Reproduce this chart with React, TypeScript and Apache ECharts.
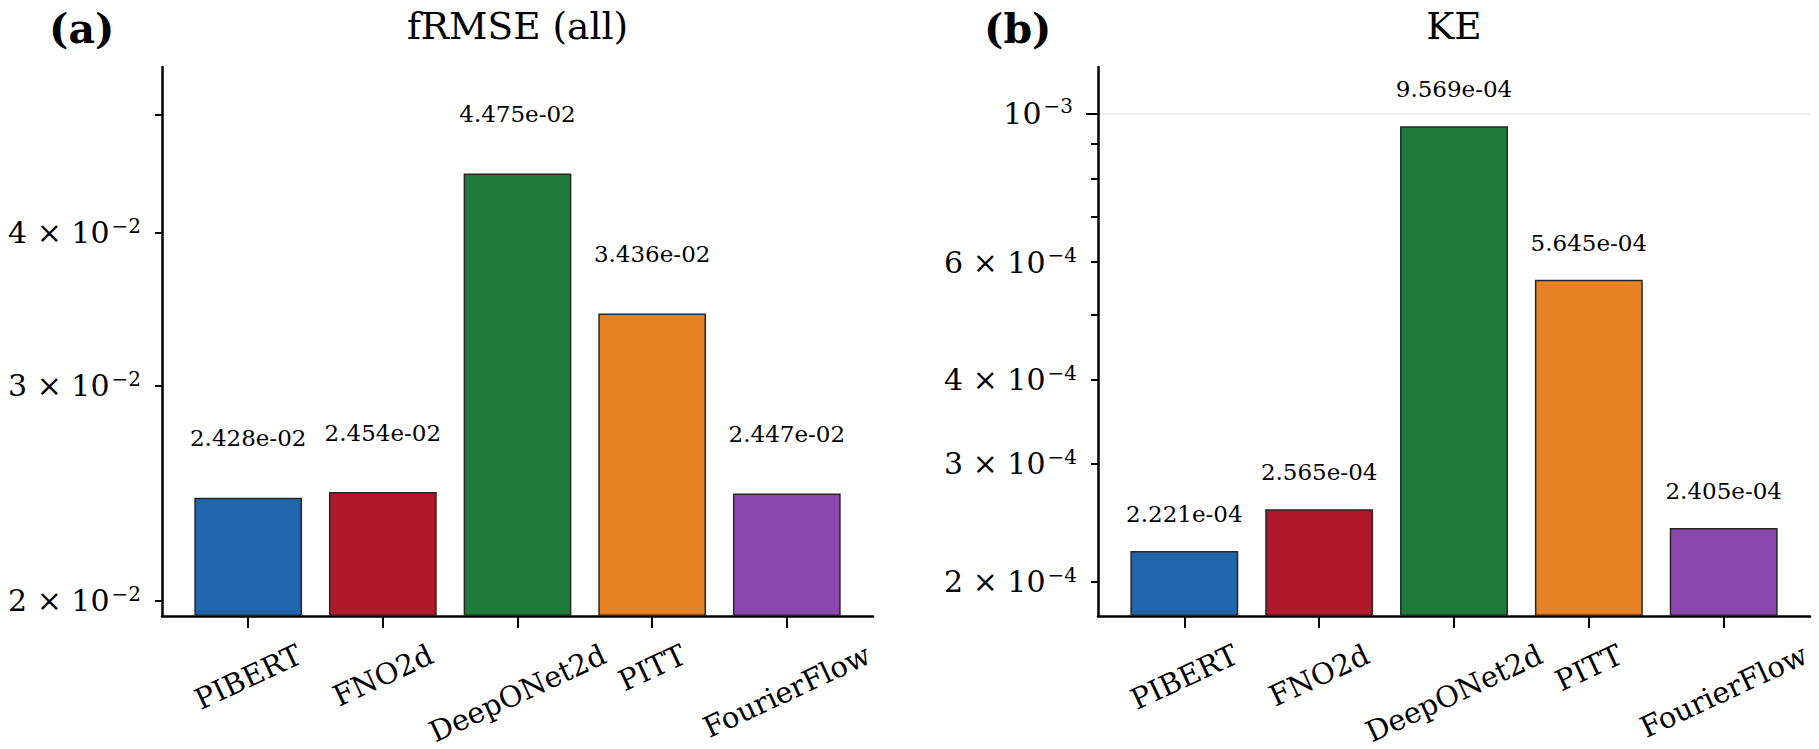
import React, { useEffect, useRef } from 'react';
import * as echarts from 'echarts';

// ---- data ----
const models = ['PIBERT', 'FNO2d', 'DeepONet2d', 'PITT', 'FourierFlow'];
const barColors = ['#2166ac', '#b2182b', '#1e7b3a', '#e68224', '#8c46ad'];
const frmseValues = [2.428e-2, 2.454e-2, 4.475e-2, 3.436e-2, 2.447e-2];
const keValues = [2.221e-4, 2.565e-4, 9.569e-4, 5.645e-4, 2.405e-4];

const frmseRange = [0.019424, 0.0547];
const keRange = [1.7768e-4, 1.173e-3];

const frmseTicks = [0.02, 0.03, 0.04, 0.05];
const frmseTickLabels = [0.02, 0.03, 0.04];
const keTicks = [2e-4, 3e-4, 4e-4, 5e-4, 6e-4, 7e-4, 8e-4, 9e-4];
const keTickLabels = [2e-4, 3e-4, 4e-4, 6e-4];
const keMajorTicks = [1e-3];

const categoryTicks = [0, 1, 2, 3, 4];
const panelTitles = ['fRMSE (all)', 'KE'];
const panelLetters = ['(a)', '(b)'];

const FONT = 'DejaVu Serif';

function fmtValue(v: number): string {
  const [m, e] = v.toExponential(3).split('e');
  const n = parseInt(e, 10);
  return m + 'e' + (n < 0 ? '-' : '+') + String(Math.abs(n)).padStart(2, '0');
}

function fmtTick(v: number): string {
  const e = Math.floor(Math.log10(v) + 1e-9);
  const m = Math.round(v / Math.pow(10, e));
  const sup = (e < 0 ? '\u2212' : '') + Math.abs(e);
  return m === 1 ? `{m|10}{s|${sup}}` : `{m|${m} \u00d7 10}{s|${sup}}`;
}

const tickRich = {
  m: { fontSize: 30, fontFamily: FONT, color: '#000', lineHeight: 34 },
  s: { fontSize: 20, fontFamily: FONT, color: '#000', lineHeight: 20, verticalAlign: 'top', padding: [0, 0, 0, 2] },
};

const grids = [
  { left: 162, top: 67, width: 711, height: 549 },
  { left: 1098, top: 67, width: 712, height: 549 },
];

export default function App() {
  const ref = useRef<HTMLDivElement>(null);
  useEffect(() => {
    if (!ref.current) return;
    const chart = echarts.init(ref.current, null, { renderer: 'svg' });

    const axisLine = { show: true, onZero: false, lineStyle: { color: '#000', width: 2.5 } };

    const xAxes = grids.map((_, k) => ({
      type: 'value',
      gridIndex: k,
      min: -0.64,
      max: 4.64,
      axisLine,
      axisTick: { show: true, customValues: categoryTicks, length: 12, lineStyle: { color: '#000', width: 2 } },
      axisLabel: { show: false },
      splitLine: { show: false },
    }));

    const yAxes: any[] = [
      {
        type: 'log', logBase: 10, gridIndex: 0, min: frmseRange[0], max: frmseRange[1], startValue: frmseRange[0],
        axisLine,
        axisTick: { show: true, customValues: frmseTicks, length: 7, lineStyle: { color: '#000', width: 2 } },
        axisLabel: { show: true, customValues: frmseTickLabels, margin: 21, formatter: fmtTick, rich: tickRich },
        splitLine: { show: false }, minorTick: { show: false },
      },
      {
        type: 'log', logBase: 10, gridIndex: 1, min: keRange[0], max: keRange[1], startValue: keRange[0],
        axisLine,
        axisTick: { show: true, customValues: keTicks, length: 7, lineStyle: { color: '#000', width: 2 } },
        axisLabel: { show: true, customValues: keTickLabels, margin: 21, formatter: fmtTick, rich: tickRich },
        splitLine: { show: false }, minorTick: { show: false },
      },
      {
        type: 'log', logBase: 10, gridIndex: 1, position: 'left', min: keRange[0], max: keRange[1],
        axisLine: { show: false, onZero: false },
        axisTick: { show: true, customValues: keMajorTicks, length: 12, lineStyle: { color: '#000', width: 2 } },
        axisLabel: { show: true, customValues: keMajorTicks, margin: 25, formatter: fmtTick, rich: tickRich },
        splitLine: { show: true, lineStyle: { color: '#e8e8e8', width: 1.5, type: 'solid' } },
        minorTick: { show: false },
      },
    ];

    const makeSeries = (values: number[], k: number, dist: number) => ({
      type: 'bar',
      xAxisIndex: k,
      yAxisIndex: k,
      barWidth: '80%',
      data: values.map((v, i) => ({ value: [i, v], itemStyle: { color: barColors[i] } })),
      itemStyle: { borderColor: '#262626', borderWidth: 1.5 },
      label: {
        show: true,
        position: 'top',
        distance: dist,
        formatter: (p: any) => fmtValue(p.value[1]),
        fontFamily: FONT,
        fontSize: 23,
        color: '#000',
      },
    });

    const titleGraphics: any[] = [];
    grids.forEach((g, k) => {
      titleGraphics.push({
        type: 'text', x: g.left + g.width / 2, y: 26, z: 10,
        style: { text: panelTitles[k], fontFamily: FONT, fontSize: 37.5, fill: '#000', align: 'center', verticalAlign: 'middle' },
      });
    });
    titleGraphics.push({
      type: 'text', x: 49, y: 29, z: 10,
      style: { text: panelLetters[0], fontFamily: FONT, fontWeight: 'bold', fontSize: 41, fill: '#000', align: 'left', verticalAlign: 'middle' },
    });
    titleGraphics.push({
      type: 'text', x: 984, y: 29, z: 10,
      style: { text: panelLetters[1], fontFamily: FONT, fontWeight: 'bold', fontSize: 41, fill: '#000', align: 'left', verticalAlign: 'middle' },
    });

    chart.setOption({
      animation: false,
      backgroundColor: '#fff',
      grid: grids.map((g) => ({ ...g, containLabel: false })),
      xAxis: xAxes,
      yAxis: yAxes,
      series: [makeSeries(frmseValues, 0, 48), makeSeries(keValues, 1, 25.5)],
      graphic: titleGraphics,
    });

    // rotated category labels, centred under each tick like matplotlib
    const canvas = document.createElement('canvas');
    const ctx = canvas.getContext('2d');
    const fs = 29;
    const rot = (25 * Math.PI) / 180;
    if (ctx) ctx.font = `${fs}px "${FONT}"`;
    const labelGraphics: any[] = [];
    [frmseRange, keRange].forEach((range, k) => {
      const yBottom = chart.convertToPixel({ yAxisIndex: k }, range[0]) as unknown as number;
      models.forEach((m, i) => {
        const x = chart.convertToPixel({ xAxisIndex: k }, i) as unknown as number;
        const w = ctx ? ctx.measureText(m).width : m.length * fs * 0.6;
        const cy = yBottom + 27 + 0.344 * fs + (w / 2) * Math.sin(rot);
        labelGraphics.push({
          type: 'text', x, y: cy, rotation: rot, z: 10,
          style: { text: m, fontFamily: FONT, fontSize: fs, fill: '#000', align: 'center', verticalAlign: 'middle' },
        });
      });
    });
    chart.setOption({ graphic: [...titleGraphics, ...labelGraphics] });

    return () => chart.dispose();
  }, []);

  return (
    <div
      ref={ref}
      style={{ position: 'absolute', left: 0, top: 0, width: 1819, height: 749, background: '#fff' }}
    />
  );
}
